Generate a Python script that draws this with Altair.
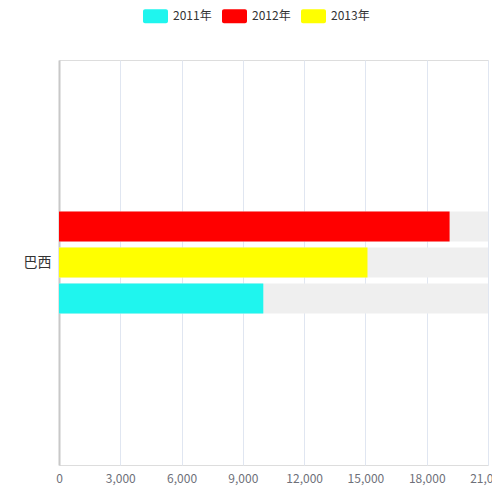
import altair as alt
import pandas as pd

categories = ["巴西"]
series = ["2011年", "2012年", "2013年"]
values = [10000, 19120, 15100]
colors = ["#1ff5ee", "#ff0000", "#ffff00"]
bar_order = ["2012年", "2013年", "2011年"]
x_ticks = [0, 3000, 6000, 9000, 12000, 15000, 18000, 21000]
x_max = 21000

df = pd.DataFrame({
    "cat": [categories[0]] * len(series),
    "series": series,
    "value": values,
    "bg": [x_max] * len(series),
})

font = "Noto Sans CJK SC"

y_enc = alt.Y(
    "cat:N",
    title=None,
    scale=alt.Scale(domain=categories, paddingInner=0.3267, paddingOuter=1),
    axis=alt.Axis(
        ticks=False, grid=False, domain=True, domainColor="#c8c8c8", domainWidth=2,
        labelColor="#333333", labelFontSize=14, labelPadding=8, labelFont=font,
    ),
)
yoff_enc = alt.YOffset(
    "series:N",
    scale=alt.Scale(domain=bar_order, paddingInner=1 / 6, paddingOuter=0),
)

x_scale = alt.Scale(domain=[0, x_max], nice=False)

bg = alt.Chart(df).mark_bar(color="#efefef").encode(
    y=y_enc,
    yOffset=yoff_enc,
    x=alt.X(
        "bg:Q",
        scale=x_scale,
        title=None,
        axis=alt.Axis(
            values=x_ticks, format=",.0f", domain=False, ticks=False, grid=True,
            gridColor="#e0e6f1", gridWidth=1, labelColor="#6e7079",
            labelFontSize=12, labelPadding=8, labelFlush=False, labelOverlap=False,
            labelFont=font,
        ),
    ),
)

rounded = ("M-0.84,-0.56 L0.84,-0.56 A0.16,0.16 0 0 1 1,-0.4 L1,0.4 "
           "A0.16,0.16 0 0 1 0.84,0.56 L-0.84,0.56 A0.16,0.16 0 0 1 -1,0.4 "
           "L-1,-0.4 A0.16,0.16 0 0 1 -0.84,-0.56 Z")

bars = alt.Chart(df).mark_bar().encode(
    y=y_enc,
    yOffset=yoff_enc,
    x=alt.X("value:Q", scale=x_scale, title=None),
    color=alt.Color(
        "series:N",
        scale=alt.Scale(domain=series, range=colors),
        legend=alt.Legend(
            title=None, orient="none", direction="horizontal",
            legendX=84, legendY=-56.5,
            symbolType=rounded, symbolSize=625, symbolStrokeWidth=0,
            symbolOpacity=1,
            labelOffset=5, columnPadding=10, labelFontSize=12,
            labelColor="#333333", labelFont=font,
        ),
    ),
)

chart = alt.layer(bg, bars).properties(
    width=429,
    height=405,
    autosize=alt.AutoSizeParams(type="none"),
    padding={"left": 51, "top": 52, "right": 4, "bottom": 23},
).configure_view(stroke=None).configure(font=font)

chart.save("out.html", embed_options={"renderer": "svg", "actions": False})
